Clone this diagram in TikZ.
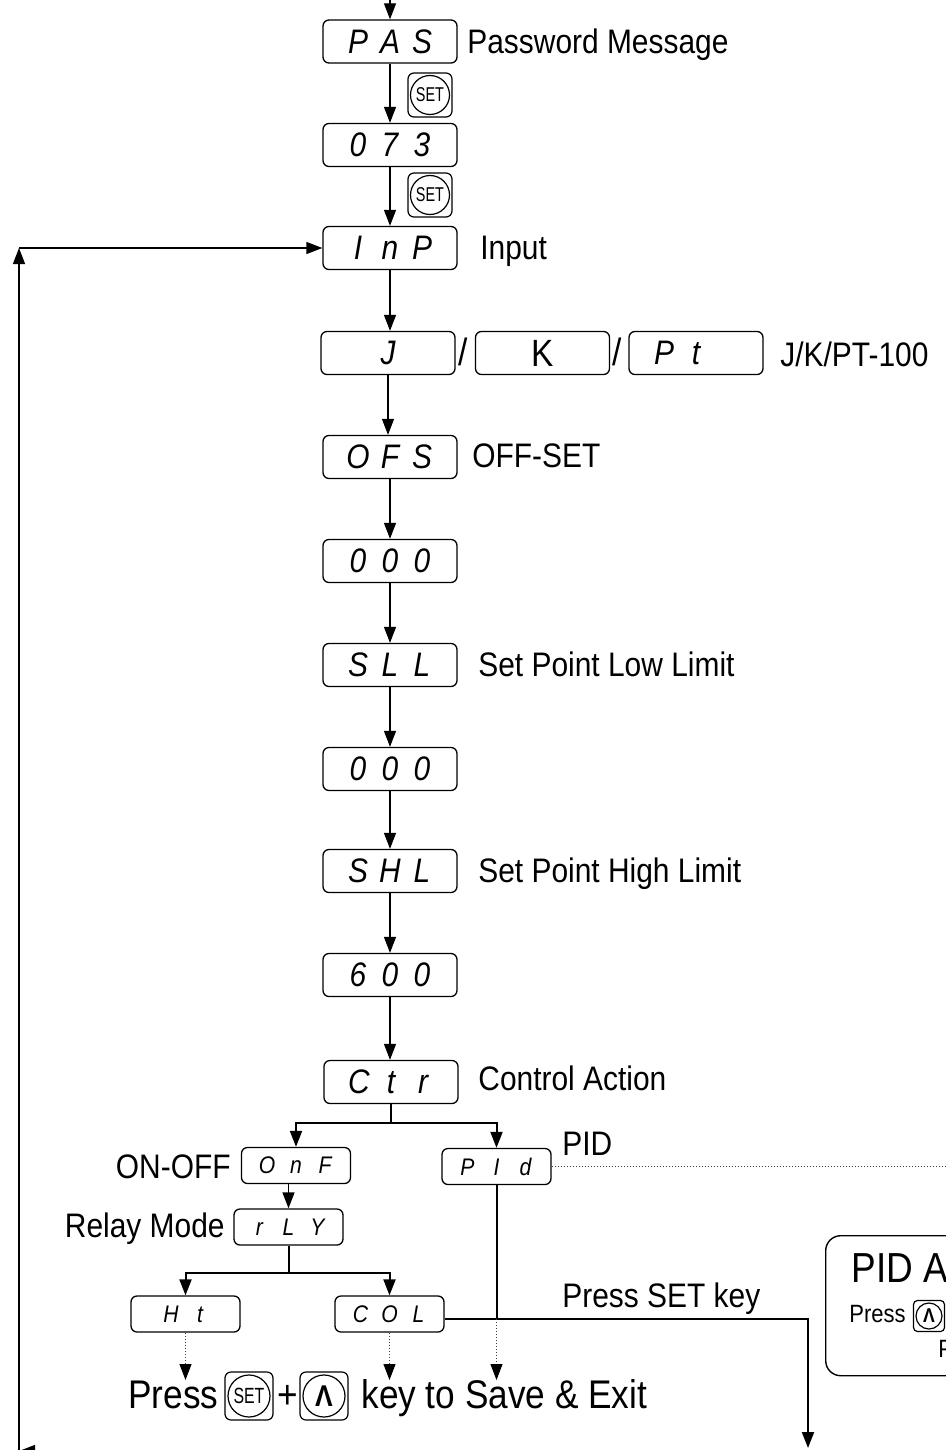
\documentclass[tikz,border=0pt]{standalone}
\usepackage{fontspec}
\setmainfont{Liberation Sans}[FakeStretch=0.88]
\newcommand{\Dg}[1]{\makebox[16pt]{#1}}
\newcommand{\Ds}[1]{\makebox[14.5pt]{#1}}
\newcommand{\KeySet}{\scalebox{0.82}[1]{SET}}
\usepackage{tikz}
\usetikzlibrary{arrows.meta,
	positioning
}
\tikzset{Menu/.style = {
		every node/.style = {inner sep=0pt, font=\fontsize{17}{20}\selectfont},
		lcd/.style = {draw, rounded corners=3pt, line width=0.65pt,
			minimum width=67pt, minimum height=21.5pt,
			font=\itshape\fontsize{17}{17}\selectfont},
		lcdsmall/.style = {lcd, minimum width=54.5pt, minimum height=18pt,
			font=\itshape\fontsize{12}{12}\selectfont},
		keybox/.style = {draw, rounded corners=3pt, line width=0.6pt, minimum size=22pt},
		keyring/.style = {draw, circle, line width=0.6pt, minimum size=19.5pt,
			font=\fontsize{10}{10}\selectfont},
		tip/.style = {-{Triangle[length=8pt,width=6pt,black]}},
		flow/.style = {line width=0.65pt, tip},
		branch/.style = {line width=1pt},
		hint/.style = {densely dotted, line width=0.5pt, black!75},
		bigtext/.style = {font=\fontsize{20}{24}\selectfont},
		smalltext/.style = {font=\fontsize{12.5}{14}\selectfont}
	}% end of Menu style
}

\begin{document}
\begin{tikzpicture}[Menu, x=0.5pt, y=-0.5pt]
  \useasboundingbox (0,0) rectangle (946,1450);
  \clip (0,0) rectangle (946,1450);

  % main column
  \coordinate (entry) at (390,-5);
  \node[lcd] (PAS) at (390,41.5) {\Dg{P}\Dg{A}\Dg{S}};
  \node[lcd] (Pw) at (390,145) {\Dg{0}\Dg{7}\Dg{3}};
  \node[lcd] (InP) at (390,248) {\Dg{I}\Dg{n}\Dg{P}};
  \node[lcd] (TcJ) at (388,353) {\Dg{J}};
  \node (slA) at (463,352) {\fontsize{19}{19}\selectfont /};
  \node[lcd] (TcK) at (542.5,353) {\upshape\fontsize{19}{19}\selectfont K};
  \node (slB) at (617,352) {\fontsize{19}{19}\selectfont /};
  \node[lcd] (TcPt) at (696,353) {\Dg{P}\Dg{t}\Dg{}};
  \node[lcd] (OFS) at (390,457) {\Dg{O}\Dg{F}\Dg{S}};
  \node[lcd] (OFSv) at (390,561) {\Dg{0}\Dg{0}\Dg{0}};
  \node[lcd] (SLL) at (390,665) {\Dg{S}\Dg{L}\Dg{L}};
  \node[lcd] (SLLv) at (390,769) {\Dg{0}\Dg{0}\Dg{0}};
  \node[lcd] (SHL) at (390,871) {\Dg{S}\Dg{H}\Dg{L}};
  \node[lcd] (SHLv) at (390,975) {\Dg{6}\Dg{0}\Dg{0}};
  \node[lcd] (Ctr) at (391,1082) {\Dg{C}\Dg{t}\Dg{r}};

  \node[keybox] (setA) at (430,95) {};
  \node[keyring] (setAr) at (setA) {\KeySet};
  \node[keybox] (setB) at (430,195) {};
  \node[keyring] (setBr) at (setB) {\KeySet};

  \draw[flow] (entry) -- (PAS.north);
  \draw[flow] (PAS.south) -- (PAS.south |- Pw.north);
  \draw[flow] (Pw.south) -- (Pw.south |- InP.north);
  \draw[flow] (InP.south) -- (InP.south |- TcJ.north);
  \draw[flow] (TcJ.south) -- (TcJ.south |- OFS.north);
  \draw[flow] (OFS.south) -- (OFS.south |- OFSv.north);
  \draw[flow] (OFSv.south) -- (OFSv.south |- SLL.north);
  \draw[flow] (SLL.south) -- (SLL.south |- SLLv.north);
  \draw[flow] (SLLv.south) -- (SLLv.south |- SHL.north);
  \draw[flow] (SHL.south) -- (SHL.south |- SHLv.north);
  \draw[flow] (SHLv.south) -- (SHLv.south |- Ctr.north);

  % labels
  \node[anchor=base west] (lblPAS) at (467,54) {Password Message};
  \node[anchor=base west] (lblInP) at (480,259) {Input};
  \node[anchor=base west] (lblTc) at (780,366) {J/K/PT-100};
  \node[anchor=base west] (lblOFS) at (472,467) {OFF-SET};
  \node[anchor=base west] (lblSLL) at (478,676) {Set Point Low Limit};
  \node[anchor=base west] (lblSHL) at (478,882) {Set Point High Limit};
  \node[anchor=base west] (lblCtr) at (478,1090) {Control Action};

  % control action branches
  \node[lcdsmall] (OnF) at (296,1165.5) {\Ds{O}\Ds{n}\Ds{F}};
  \node[lcdsmall] (PId) at (496.5,1166.5) {\Ds{P}\Ds{I}\Ds{d}};
  \node[lcdsmall] (rLY) at (288.5,1227) {\Ds{r}\Ds{L}\Ds{Y}};
  \node[lcdsmall] (Ht) at (185.5,1314) {\Ds{H}\Ds{t}};
  \node[lcdsmall] (COL) at (389.5,1314) {\Ds{C}\Ds{O}\Ds{L}};
  \node[anchor=base west] (lblPID) at (562,1155) {PID};
  \node[anchor=base east] (lblOnF) at (231,1178) {ON-OFF};
  \node[anchor=base east] (lblrLY) at (225,1237) {Relay Mode};
  \node[anchor=base west] (lblExit) at (562,1307) {Press SET key};

  \draw[branch] (Ctr.south) -- ++(0,19) coordinate (ctrFork);
  \draw[branch, tip] (ctrFork) -| (OnF.north);
  \draw[branch, tip] (ctrFork) -| (PId.north);
  \draw[flow] (OnF.south -| rLY.north) -- (rLY.north);
  \draw[branch] (rLY.south) -- ++(0,27) coordinate (rlyFork);
  \draw[branch, tip] (rlyFork) -| (Ht.north);
  \draw[branch, tip] (rlyFork) -| (COL.north);

  \coordinate (exitEnd) at (808,1448);
  \draw[branch, tip] ([yshift=-2.5pt]COL.east) -| (exitEnd) coordinate[pos=0.5] (exitKnee);
  \coordinate (pidJoin) at (PId.south |- exitKnee);
  \draw[branch] (PId.south) -- (pidJoin);
  \coordinate (pidFar) at (960,1166.5);
  \draw[hint] (PId.east) -- (pidFar);

  % save and exit
  \coordinate (saveTop) at (0,1380);
  \draw[hint, tip] (Ht.south) -- (Ht.south |- saveTop);
  \draw[hint, tip] (COL.south) -- (COL.south |- saveTop);
  \draw[hint, tip] (pidJoin) -- (pidJoin |- saveTop);
  \node[bigtext, anchor=base west] (saveA) at (128,1408) {Press};
  \node[keybox, minimum size=24pt] (saveSet) at (249,1396) {};
  \node[keyring, minimum size=21pt] (saveSetR) at (saveSet) {\fontsize{11}{11}\selectfont\KeySet};
  \node[bigtext, anchor=base] (savePlus) at (288,1408) {+};
  \node[keybox, minimum size=24pt] (saveUp) at (324,1396) {};
  \node[keyring, minimum size=21pt] (saveUpR) at (saveUp) {\bfseries\fontsize{15}{15}\selectfont Λ};
  \node[bigtext, anchor=base west] (saveB) at (361,1408) {key to Save \& Exit};

  % loop back to input
  \coordinate (loopBR) at (120,1451);
  \coordinate (loopBL) at (19,1451);
  \coordinate (loopTL) at (InP.west -| loopBL);
  \draw[flow] (loopBR) -- (loopBL);
  \draw[flow] (loopBL) -- (loopTL);
  \draw[flow] (loopTL) -- (InP.west);

  % pid auto tune box
  \node[draw, rounded corners=7.5pt, line width=0.7pt, anchor=north west,
    minimum width=160pt, minimum height=70pt] (pidBox) at (825,1235) {};
  \node[anchor=base west, font=\fontsize{21}{24}\selectfont] (pidHead) at (851,1282) {PID A};
  \node[smalltext, anchor=base west] (pidPress) at (849,1322) {Press};
  \node[keybox, minimum size=15.5pt, rounded corners=2pt] (pidUp) at (929,1316) {};
  \node[keyring, minimum size=13pt] (pidUpR) at (pidUp) {\bfseries\fontsize{10}{10}\selectfont Λ};
  \node[smalltext, anchor=base west] (pidNext) at (938,1357) {P};
\end{tikzpicture}
\end{document}
